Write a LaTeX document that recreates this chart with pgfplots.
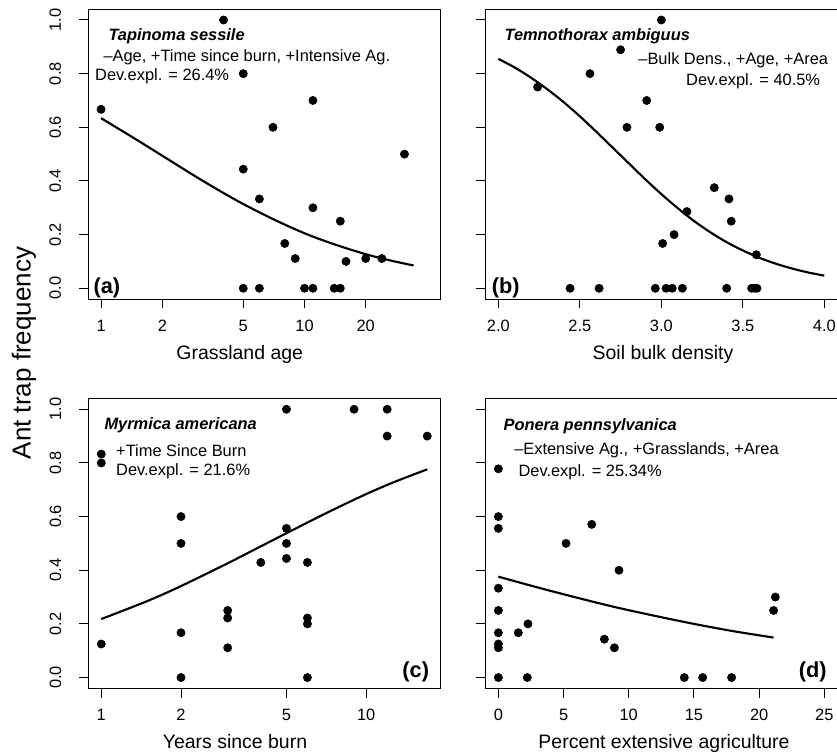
\documentclass[border=0pt]{standalone}
\usepackage{fontspec}
\setmainfont{Liberation Sans}
\usepackage{pgfplots}
\pgfplotsset{compat=1.18}

\newcommand{\tk}{\fontsize{12.3}{14}\selectfont}
\newcommand{\lab}{\fontsize{14.6}{17}\selectfont}

\pgfplotsset{
  panel/.style={
    scale only axis, width=264pt, height=217.3pt,
    anchor=south west,
    ymin=-0.04, ymax=1.04,
    ytick={0,0.2,0.4,0.6,0.8,1},
    tick align=outside, tick pos=left,
    major tick length=7pt,
    axis line style={line width=0.75pt},
    every tick/.style={black, line width=0.75pt},
    minor tick num=0,
    clip=false,
    ticklabel style={font=\tk},
    yticklabel style={rotate=90, anchor=base, inner sep=0pt},
    xticklabel style={anchor=north, inner sep=0pt},
    yticklabel shift=13.5pt,
    xticklabel shift=8.5pt,
  },
  ylab/.style={yticklabels={0.0,0.2,0.4,0.6,0.8,1.0}},
  noylab/.style={yticklabels={}},
  pts/.style={only marks, mark=*, mark size=3.1pt, black},
  fit/.style={no marks, black, line width=1.6pt, smooth},
}

\begin{document}
\begin{tikzpicture}
\useasboundingbox (0,0) rectangle (627.75pt,565.5pt);

% (a) grassland age
\begin{axis}[panel, ylab, at={(66.2pt,341.25pt)},
  xmode=log, xmin=0.865, xmax=46.5, xminorticks=false,
  xtick={1,2,5,10,20}, xticklabels={1,2,5,10,20}]
\addplot[pts] coordinates {
 (1,0.667) (4,1.0) (5,0.8) (5,0.444) (5,0) (6,0.333) (6,0) (7,0.6)
 (8,0.167) (9,0.111) (10,0) (11,0.7) (11,0.3) (11,0) (14,0) (15,0.25)
 (15,0) (16,0.1) (20,0.111) (24,0.111) (31,0.5)};
\addplot[fit] coordinates {
 (1,0.634) (1.5,0.553) (2,0.494) (3,0.411) (4,0.355) (5,0.314) (7,0.258)
 (10,0.205) (14,0.164) (20,0.127) (27,0.102) (34.4,0.085)};
\node[anchor=base west, inner sep=0pt, font=\tk\bfseries\itshape] at (rel axis cs:0.0568,0.8906) {Tapinoma sessile};
\node[anchor=base west, inner sep=0pt, font=\tk] at (rel axis cs:0.0426,0.8198) {–Age, +Time since burn, +Intensive Ag.};
\node[anchor=base west, inner sep=0pt, font=\tk] at (rel axis cs:0.019,0.7525) {Dev.expl. = 26.4\%};
\node[anchor=base west, inner sep=0pt, font=\fontsize{16.3}{18}\selectfont\bfseries] at (rel axis cs:0.0142,0.0183) {(a)};
\end{axis}

% (b) soil bulk density
\begin{axis}[panel, noylab, at={(364pt,341.25pt)},
  xmin=1.92, xmax=4.08,
  xtick={2,2.5,3,3.5,4}, xticklabels={2.0,2.5,3.0,3.5,4.0}]
\addplot[pts] coordinates {
 (2.241,0.75) (2.44,0) (2.562,0.8) (2.618,0) (2.75,0.889) (2.789,0.6)
 (2.91,0.7) (2.963,0) (2.99,0.6) (3.0,1.0) (3.008,0.167) (3.029,0)
 (3.067,0) (3.078,0.2) (3.129,0) (3.157,0.286) (3.325,0.375) (3.401,0)
 (3.415,0.333) (3.429,0.25) (3.554,0) (3.573,0) (3.587,0) (3.583,0.125)};
\addplot[fit] coordinates {
 (2.0,0.855) (2.1,0.823) (2.2,0.785) (2.3,0.742) (2.4,0.694) (2.5,0.641)
 (2.6,0.584) (2.7,0.525) (2.8,0.466) (2.9,0.407) (3.0,0.351) (3.1,0.299)
 (3.2,0.251) (3.3,0.209) (3.4,0.172) (3.5,0.141) (3.6,0.114) (3.7,0.092)
 (3.8,0.074) (3.9,0.059) (4.0,0.047)};
\node[anchor=base west, inner sep=0pt, font=\tk\bfseries\itshape] at (rel axis cs:0.054,0.8906) {Temnothorax ambiguus};
\node[anchor=base east, inner sep=0pt, font=\tk] at (rel axis cs:0.9744,0.8077) {–Bulk Dens., +Age, +Area};
\node[anchor=base east, inner sep=0pt, font=\tk] at (rel axis cs:0.9517,0.7363) {Dev.expl. = 40.5\%};
\node[anchor=base west, inner sep=0pt, font=\fontsize{16.3}{18}\selectfont\bfseries] at (rel axis cs:0.018,0.0183) {(b)};
\end{axis}

% (c) years since burn
\begin{axis}[panel, ylab, at={(66.2pt,49.3pt)},
  xmode=log, xmin=0.893, xmax=19.04, xminorticks=false,
  xtick={1,2,5,10}, xticklabels={1,2,5,10}]
\addplot[pts] coordinates {
 (1,0.833) (1,0.8) (1,0.125) (2,0.6) (2,0.5) (2,0.167) (2,0)
 (3,0.25) (3,0.222) (3,0.111) (4,0.429) (5,1.0) (5,0.556) (5,0.5)
 (5,0.444) (6,0.429) (6,0.222) (6,0.2) (6,0) (9,1.0) (12,1.0)
 (12,0.9) (17,0.9)};
\addplot[fit] coordinates {
 (1,0.218) (1.5,0.286) (2,0.341) (3,0.426) (4,0.489) (5,0.538)
 (7,0.611) (10,0.684) (13,0.732) (17,0.776)};
\node[anchor=base west, inner sep=0pt, font=\tk\bfseries\itshape] at (rel axis cs:0.0455,0.8937) {Myrmica americana};
\node[anchor=base west, inner sep=0pt, font=\tk] at (rel axis cs:0.0787,0.7995) {+Time Since Burn};
\node[anchor=base west, inner sep=0pt, font=\tk] at (rel axis cs:0.0787,0.7328) {Dev.expl. = 21.6\%};
\node[anchor=base east, inner sep=0pt, font=\fontsize{16.3}{18}\selectfont\bfseries] at (rel axis cs:0.9688,0.0387) {(c)};
\end{axis}

% (d) percent extensive agriculture
\begin{axis}[panel, noylab, at={(364pt,49.3pt)},
  xmin=-1, xmax=26,
  xtick={0,5,10,15,20,25}, xticklabels={0,5,10,15,20,25}]
\addplot[pts] coordinates {
 (0,0.778) (0,0.6) (0,0.556) (0,0.333) (0,0.25) (0,0.167) (0,0.125)
 (0,0.111) (0,0) (1.53,0.167) (2.27,0.2) (2.22,0) (5.19,0.5)
 (7.16,0.571) (8.13,0.143) (8.9,0.111) (9.25,0.4) (14.26,0)
 (15.67,0) (17.89,0) (21.11,0.25) (21.24,0.3)};
\addplot[fit] coordinates {
 (0,0.376) (3,0.336) (6,0.298) (9,0.262) (12,0.23) (15,0.2) (18,0.173) (21.1,0.149)};
\node[anchor=base west, inner sep=0pt, font=\tk\bfseries\itshape] at (rel axis cs:0.0511,0.888) {Ponera pennsylvanica};
\node[anchor=base west, inner sep=0pt, font=\tk] at (rel axis cs:0.0815,0.8074) {–Extensive Ag., +Grasslands, +Area};
\node[anchor=base west, inner sep=0pt, font=\tk] at (rel axis cs:0.0938,0.7304) {Dev.expl. = 25.34\%};
\node[anchor=base east, inner sep=0pt, font=\fontsize{16.3}{18}\selectfont\bfseries] at (rel axis cs:0.970,0.0387) {(d)};
\end{axis}

% axis titles
\node[anchor=base, inner sep=0pt, font=\lab] at (179.8pt,296.25pt) {Grassland age};
\node[anchor=base, inner sep=0pt, font=\lab] at (497.25pt,296.25pt) {Soil bulk density};
\node[anchor=base, inner sep=0pt, font=\lab] at (176.25pt,4.3pt) {Years since burn};
\node[anchor=base, inner sep=0pt, font=\lab] at (498pt,4.3pt) {Percent extensive agriculture};
\node[rotate=90, inner sep=0pt, font=\fontsize{19.5}{22}\selectfont] at (18pt,300.75pt) {Ant trap frequency};
\end{tikzpicture}
\end{document}
